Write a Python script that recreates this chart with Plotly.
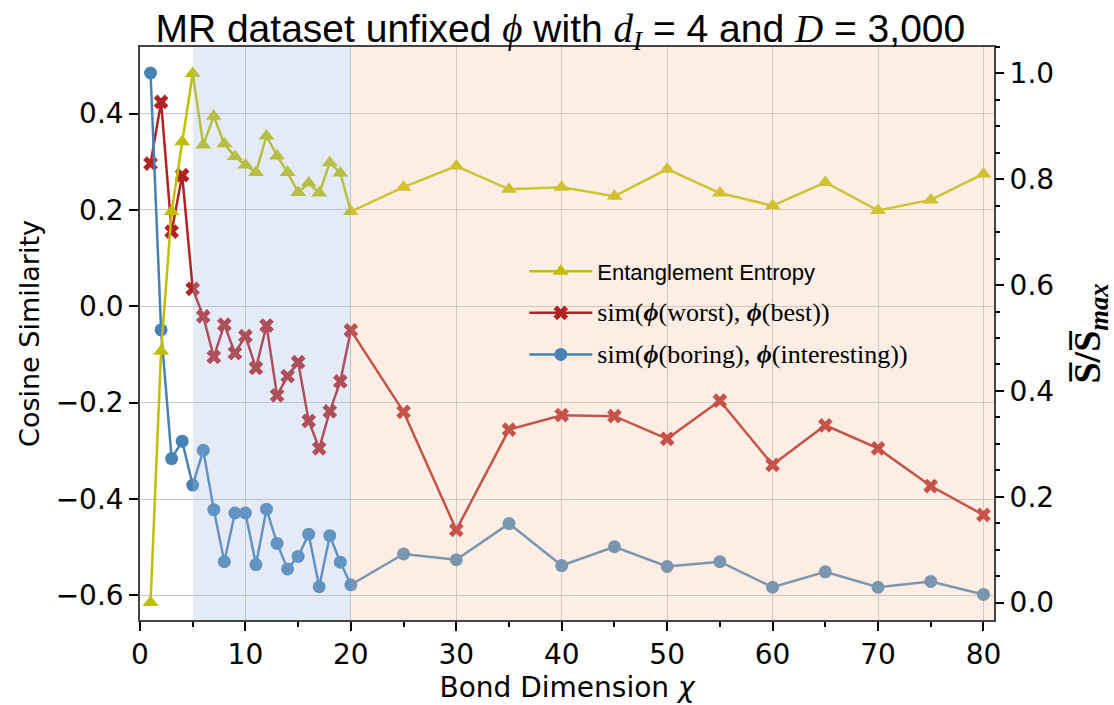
import plotly.graph_objects as go

# ---- data ----
chi = [1, 2, 3, 4, 5, 6, 7, 8, 9, 10, 11, 12, 13, 14, 15, 16, 17, 18, 19, 20,
       25, 30, 35, 40, 45, 50, 55, 60, 65, 70, 75, 80]

entropy = [0.0, 0.475, 0.739, 0.871, 1.0, 0.865, 0.919, 0.867, 0.843, 0.827,
           0.813, 0.882, 0.844, 0.813, 0.775, 0.793, 0.774, 0.831, 0.812, 0.739,
           0.785, 0.825, 0.781, 0.785, 0.768, 0.819, 0.774, 0.750, 0.794, 0.741,
           0.761, 0.810]

sim_worst_best = [0.296, 0.424, 0.155, 0.272, 0.036, -0.021, -0.105, -0.038,
                  -0.097, -0.062, -0.128, -0.040, -0.185, -0.145, -0.116, -0.238,
                  -0.295, -0.218, -0.156, -0.050,
                  -0.219, -0.464, -0.256, -0.226, -0.228, -0.275, -0.196, -0.329,
                  -0.247, -0.295, -0.373, -0.433]

sim_boring_interesting = [0.484, -0.049, -0.316, -0.280, -0.371, -0.299, -0.422,
                          -0.530, -0.429, -0.429, -0.536, -0.421, -0.492, -0.545,
                          -0.519, -0.473, -0.582, -0.476, -0.531, -0.578,
                          -0.514, -0.526, -0.451, -0.538, -0.499, -0.540, -0.530,
                          -0.583, -0.551, -0.583, -0.571, -0.598]

left_ticks = [-0.6, -0.4, -0.2, 0.0, 0.2, 0.4]
right_ticks = [0.0, 0.2, 0.4, 0.6, 0.8, 1.0]
x_ticks = [0, 10, 20, 30, 40, 50, 60, 70, 80]

YELLOW = "#bfbf00"
RED = "#b22222"
BLUE = "#4682b4"
SANS = "DejaVu Sans"
SERIF = "Liberation Serif"

fig = go.Figure()

fig.add_trace(go.Scatter(
    x=chi, y=entropy, yaxis="y2", mode="lines+markers",
    name="Entanglement Entropy", legendgroup="a",
    line=dict(color=YELLOW, width=2.5),
    marker=dict(symbol="triangle-up", size=14, color=YELLOW)))

fig.add_trace(go.Scatter(
    x=chi, y=sim_worst_best, mode="lines+markers",
    name=f'<span style="font-family:{SERIF};font-size:26px">sim(<b><i>ϕ</i></b>(worst), <b><i>ϕ</i></b>(best))</span>',
    legendgroup="b",
    line=dict(color=RED, width=2.5),
    marker=dict(symbol="x", size=13, color=RED)))

fig.add_trace(go.Scatter(
    x=chi, y=sim_boring_interesting, mode="lines+markers",
    name=f'<span style="font-family:{SERIF};font-size:26px">sim(<b><i>ϕ</i></b>(boring), <b><i>ϕ</i></b>(interesting))</span>',
    legendgroup="c",
    line=dict(color=BLUE, width=2.5),
    marker=dict(symbol="circle", size=13, color=BLUE)))

fig.add_shape(type="rect", xref="x", yref="paper", x0=5, x1=20, y0=0, y1=1,
              fillcolor="rgb(165,188,225)", opacity=0.3, line_width=0, layer="above")
fig.add_shape(type="rect", xref="x", yref="paper", x0=20, x1=81, y0=0, y1=1,
              fillcolor="rgb(245,198,165)", opacity=0.3, line_width=0, layer="above")

title_text = (f'MR dataset unfixed <span style="font-family:{SERIF}"><i>ϕ</i></span> with '
              f'<span style="font-family:{SERIF}"><i>d</i><sub><i>I</i></sub></span> = 4 and '
              f'<span style="font-family:{SERIF}"><i>D</i></span> = 3,000')

fig.update_layout(
    width=1114, height=705,
    margin=dict(l=140, r=120, t=47, b=85),
    paper_bgcolor="white", plot_bgcolor="white",
    font=dict(family=SANS, size=27, color="black"),
    title=dict(
        text=title_text,
        x=0.503, xanchor="center", y=0.96, yanchor="middle", yref="container",
        font=dict(family="Liberation Sans", size=39, color="black")),
    xaxis=dict(
        range=[0, 81], tickvals=x_ticks, ticks="outside", ticklen=9, tickwidth=1.5,
        tickcolor="black", tickfont=dict(size=28), automargin=False,
        minor=dict(dtick=5, tick0=0, ticks="outside", ticklen=5, tickcolor="black", showgrid=False),
        showgrid=True, gridcolor="#c8c8c8", gridwidth=1.3,
        showline=True, linecolor="#444", linewidth=1.5, mirror=True, zeroline=False,
        title=dict(text="Bond Dimension <i>χ</i>", font=dict(size=28), standoff=1)),
    yaxis=dict(
        range=[-0.651, 0.538], tickvals=left_ticks, tickformat=".1f", automargin=False,
        ticks="outside", ticklen=9, tickwidth=1.5, tickcolor="black", tickfont=dict(size=28),
        showgrid=True, gridcolor="#c8c8c8", gridwidth=1.3,
        showline=True, linecolor="#444", linewidth=1.5, mirror=True, zeroline=False,
        title=dict(text="Cosine Similarity", font=dict(size=27), standoff=8)),
    yaxis2=dict(
        overlaying="y", side="right", range=[-0.033, 1.05], tickvals=right_ticks,
        tickformat=".1f", ticks="outside", ticklen=9, tickwidth=1.5, tickcolor="black",
        tickfont=dict(size=28), automargin=False,
        minor=dict(dtick=0.05, tick0=0, ticks="outside", ticklen=5, tickcolor="black", showgrid=False),
        showgrid=False, zeroline=False, showline=False,
        title=dict(text="<b>S̅/S̅<sub><i>max</i></sub></b>",
                   font=dict(family=SERIF, size=38), standoff=20)),
    legend=dict(
        x=0.45, y=0.645, xanchor="left", yanchor="top",
        bgcolor="rgba(0,0,0,0)", borderwidth=0,
        font=dict(family="Liberation Sans", size=22, color="black"),
        traceorder="grouped", tracegroupgap=10, itemwidth=63),
)

fig.write_html("out.html")
